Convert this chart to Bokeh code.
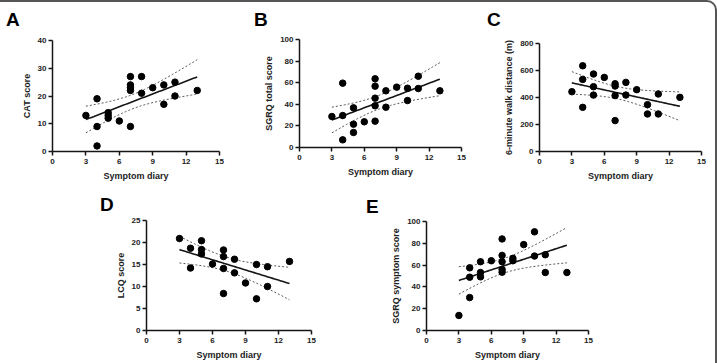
import numpy as np
from bokeh.plotting import figure
from bokeh.layouts import row, column
from bokeh.models import Range1d, FixedTicker, Spacer, Div
from bokeh.embed import file_html
from bokeh.resources import INLINE

FONT = "Liberation Sans"
INK = "#151515"

# Symptom diary score (x) against each outcome measure (y)
diary_a = [3, 4, 4, 4, 5, 5, 5, 6, 7, 7, 7, 7, 7, 8, 8, 9, 10, 10, 11, 11, 13]
cat_score = [13, 19, 9, 2, 14, 13, 12, 11, 27, 24, 23, 22, 9, 27, 21, 23, 24, 17, 25, 20, 22]

diary_b = [3, 4, 4, 4, 5, 5, 5, 6, 7, 7, 7, 7, 7, 8, 8, 9, 10, 10, 11, 11, 13]
sgrq_total = [28.7, 59.6, 29.6, 7.1, 36.7, 21.6, 13.9, 23.8, 63.6, 56.8, 45.7, 38.6, 24.4,
              52.5, 37.3, 55.9, 54.9, 43.5, 66.0, 54.6, 52.5]

diary_c = [3, 4, 4, 4, 5, 5, 5, 6, 7, 7, 7, 7, 8, 8, 9, 10, 10, 11, 11, 13]
walk_distance = [443, 635, 534, 327, 574, 480, 418, 549, 502, 485, 414, 229, 512, 418,
                 458, 347, 278, 426, 278, 401]

diary_d = [3, 4, 4, 5, 5, 5, 6, 7, 7, 7, 7, 8, 8, 9, 10, 10, 11, 11, 13]
lcq_score = [20.9, 18.7, 14.2, 20.4, 18.4, 17.4, 15.1, 18.3, 16.8, 14.1, 8.4, 16.2, 13.1,
             10.8, 15.0, 7.2, 14.5, 10.0, 15.7]

diary_e = [3, 4, 4, 4, 5, 5, 5, 6, 7, 7, 7, 7, 7, 8, 8, 9, 10, 10, 11, 11, 13]
sgrq_symptom = [13.8, 57.5, 48.9, 30.2, 63.1, 53.2, 49.2, 64.0, 84.0, 68.9, 63.1, 56.0, 53.5,
                66.2, 64.0, 78.8, 90.5, 68.3, 69.5, 53.2, 53.2]

x_ticks = [0, 3, 6, 9, 12, 15]

# two-sided 95% t critical values by residual degrees of freedom
T975 = {16: 2.120, 17: 2.110, 18: 2.101, 19: 2.093, 20: 2.086}


def fit_with_band(x, y):
    """Least-squares line with its 95% confidence band for the mean."""
    x = np.asarray(x, float)
    y = np.asarray(y, float)
    n = len(x)
    slope, intercept = np.polyfit(x, y, 1)
    resid = y - (slope * x + intercept)
    s = np.sqrt((resid ** 2).sum() / (n - 2))
    sxx = ((x - x.mean()) ** 2).sum()
    xs = np.linspace(x.min(), x.max(), 60)
    ys = slope * xs + intercept
    half = T975[n - 2] * s * np.sqrt(1.0 / n + (xs - x.mean()) ** 2 / sxx)
    return xs, ys, ys - half, ys + half


def panel(letter, x, y, ylabel, ymax, ystep,
          left, frame_w, right, head_h, top, frame_h, bottom, letter_x, letter_top):
    width = left + frame_w + right
    p = figure(frame_width=frame_w, frame_height=frame_h, title=None,
               x_range=Range1d(0, 15), y_range=Range1d(0, ymax),
               output_backend="svg", toolbar_location=None,
               min_border_left=left, min_border_top=top,
               min_border_right=right, min_border_bottom=bottom,
               background_fill_color="white", border_fill_color="white")
    p.outline_line_color = None
    p.grid.visible = False

    p.xaxis.ticker = FixedTicker(ticks=x_ticks)
    p.yaxis.ticker = FixedTicker(ticks=list(range(0, ymax + 1, ystep)))
    p.xaxis.axis_label = "Symptom diary"
    p.yaxis.axis_label = ylabel
    for ax in (p.xaxis[0], p.yaxis[0]):
        ax.axis_line_color = INK
        ax.axis_line_width = 1.5
        ax.major_tick_line_color = INK
        ax.major_tick_line_width = 1.5
        ax.major_tick_out = 4
        ax.major_tick_in = 0
        ax.minor_tick_line_color = None
        ax.major_label_text_font = FONT
        ax.major_label_text_font_size = "8px"
        ax.major_label_text_font_style = "bold"
        ax.major_label_text_color = "#222222"
        ax.axis_label_text_font = FONT
        ax.axis_label_text_font_size = "9px"
        ax.axis_label_text_font_style = "bold"
        ax.axis_label_text_color = "#222222"
    p.yaxis.major_label_standoff = 2
    p.yaxis.axis_label_standoff = 3
    p.xaxis.major_label_standoff = 3
    p.xaxis.axis_label_standoff = 4

    xs, ys, lo, hi = fit_with_band(x, y)
    p.line(xs, lo, line_color="#555555", line_width=1, line_dash="2 2")
    p.line(xs, hi, line_color="#555555", line_width=1, line_dash="2 2")
    p.line(xs, ys, line_color=INK, line_width=1.6)
    p.scatter(x, y, size=6.5, fill_color="black", line_color="black")

    # panel letter in a strip above the plot
    head = Div(
        text=(f'<div style="font-family:\'{FONT}\';font-weight:bold;font-size:19px;'
              f'line-height:19px;color:#000;margin:0;'
              f'padding:{letter_top}px 0 0 {letter_x}px;">{letter}</div>'),
        width=width, height=head_h, margin=0)
    return column(head, p, spacing=0)


# strip heights: top row 26 + 157, bottom row 30 + 148
cA = panel("A", diary_a, cat_score, "CAT score", 40, 10,
           52, 167, 21, 26, 12, 111, 34, 6, 8)
cB = panel("B", diary_b, sgrq_total, "SGRQ total score", 100, 20,
           59, 162, 19, 26, 11, 108, 38, 14, 8)
cC = panel("C", diary_c, walk_distance, "6-minute walk distance (m)", 800, 200,
           59, 162, 14, 26, 15, 108, 34, 7, 8)
cD = panel("D", diary_d, lcq_score, "LCQ score", 25, 5,
           46, 165, 51, 30, 5, 110, 33, 0, 10)
cE = panel("E", diary_e, sgrq_symptom, "SGRQ symptom score", 100, 20,
           64, 162, 127, 30, 6, 109, 33, 4, 12)

top_row = row(cA, cB, cC, spacing=0)
bottom_row = row(Spacer(width=100, height=178), cD, cE, spacing=0)
layout = column(top_row, bottom_row, spacing=0,
                styles={"border-top": "2px solid #555555",
                        "border-right": "2px solid #555555",
                        "border-top-right-radius": "10px",
                        "background-color": "white"})

with open("out.html", "w") as f:
    f.write(file_html(layout, INLINE))
